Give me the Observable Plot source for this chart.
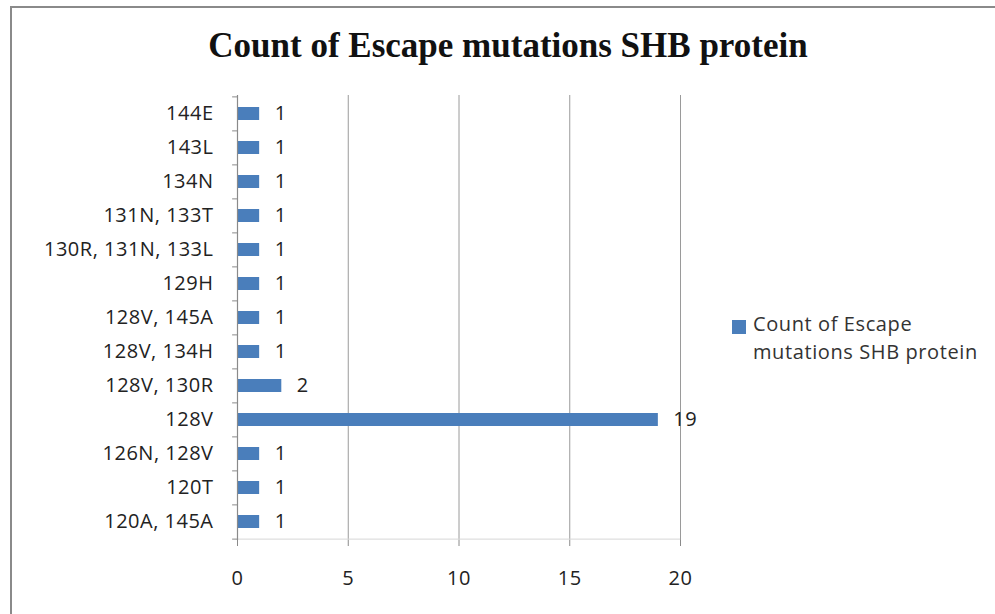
<!DOCTYPE html>
<html>
<head>
<meta charset="utf-8">
<script src="https://cdn.jsdelivr.net/npm/d3@7"></script>
<script src="https://cdn.jsdelivr.net/npm/@observablehq/plot@0.6"></script>
<style>
  html, body { margin: 0; padding: 0; background: #fff; }
  #wrap { position: relative; width: 995px; height: 614px; overflow: hidden; background: #fff; }
  #wrap svg { position: absolute; left: 0; top: 0; }
  #title { position: absolute; left: 0; width: 1016px; top: 26px; text-align: center;
           font-family: "Liberation Serif", "Times New Roman", serif; font-weight: bold; font-size: 35px; color: #111; }
  #borderL { position: absolute; left: 10px; top: 7px; width: 2px; height: 607px; background: #8a8a8a; }
  #borderT { position: absolute; left: 10px; top: 6px; width: 985px; height: 2px; background: #8a8a8a; }
  .sw { position: absolute; left: 732px; top: 320px; width: 14px; height: 14px; background: #4a7ebb; }
  .lg { position: absolute; left: 753px; font-family: "Open Sans", Lato, sans-serif;
        font-size: 20px; color: #333; line-height: 22px; letter-spacing: 0.6px; white-space: nowrap; }
</style>
</head>
<body>
<div id="wrap">
  <div id="borderT"></div>
  <div id="borderL"></div>
  <div id="title"></div>
  <div class="sw"></div>
  <div class="lg" id="lg1" style="top:313px"></div>
  <div class="lg" id="lg2" style="top:341px"></div>
</div>
<script>
const titleText = "Count of Escape mutations SHB protein";
const seriesName = ["Count of Escape", "mutations SHB protein"];
const categories = ["144E", "143L", "134N", "131N, 133T", "130R, 131N, 133L", "129H", "128V, 145A",
  "128V, 134H", "128V, 130R", "128V", "126N, 128V", "120T", "120A, 145A"];
const counts = [1, 1, 1, 1, 1, 1, 1, 1, 2, 19, 1, 1, 1];
const xTicks = [0, 5, 10, 15, 20];

const data = categories.map((c, i) => ({label: c, count: counts[i]}));

document.getElementById("title").textContent = titleText;
document.getElementById("lg1").textContent = seriesName[0];
document.getElementById("lg2").textContent = seriesName[1];

const W = 995, H = 614, mT = 95, mB = 74;
const step = (H - mT - mB) / categories.length;

const chart = Plot.plot({
  width: W,
  height: H,
  marginLeft: 237,
  marginRight: 315,
  marginTop: mT,
  marginBottom: mB,
  style: {fontFamily: "'Open Sans', Lato, sans-serif", fontSize: "20px", letterSpacing: "0.5px", color: "#222", background: "transparent"},
  x: {domain: [0, 20]},
  y: {domain: categories, paddingInner: 0.62, paddingOuter: 0.31, align: 0.5},
  marks: [
    Plot.ruleX(xTicks.filter(d => d > 0), {stroke: "#9a9a9a", strokeWidth: 1}),
    Plot.ruleY([categories[categories.length - 1]], {x1: 0, x2: 20, dy: step / 2, stroke: "#d6d6d6"}),
    Plot.barX(data, {x: "count", y: "label", fill: "#4a7ebb"}),
    Plot.ruleX([0], {stroke: "#8a8a8a", strokeWidth: 1.2}),
    Plot.ruleY(categories, {x1: -0.22, x2: 0, dy: -step / 2, stroke: "#8a8a8a"}),
    Plot.ruleY([categories[categories.length - 1]], {x1: -0.22, x2: 0, dy: step / 2, stroke: "#8a8a8a"}),
    Plot.text(data, {x: "count", y: "label", text: d => String(d.count), textAnchor: "start", dx: 15, fill: "#222"}),
    Plot.axisY({tickSize: 0, tickPadding: 24, fill: "#222", label: null}),
    Plot.axisX({ticks: xTicks, tickSize: 6, tickPadding: 24, stroke: "#8a8a8a", fill: "#222", label: null})
  ]
});
document.getElementById("wrap").prepend(chart);
</script>
</body>
</html>
